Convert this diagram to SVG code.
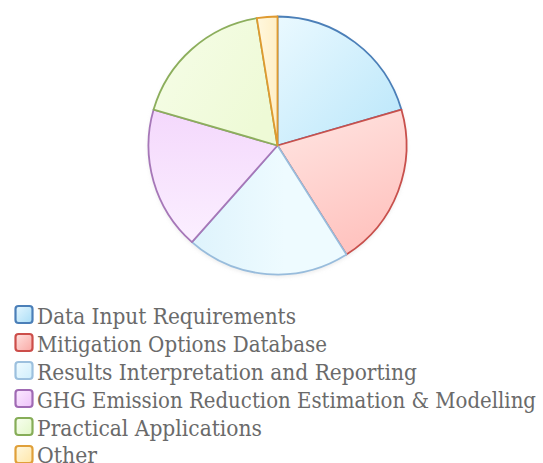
<svg xmlns="http://www.w3.org/2000/svg" width="543" height="463" viewBox="0 0 543 463">
<defs>
<linearGradient id="gBlue" x1="0" y1="0" x2="1" y2="1"><stop offset="0" stop-color="#eaf9ff"/><stop offset="1" stop-color="#b9e6fa"/></linearGradient>
<linearGradient id="gRed" x1="0" y1="0" x2="0.4" y2="1"><stop offset="0" stop-color="#ffe6e3"/><stop offset="1" stop-color="#ffc4c0"/></linearGradient>
<linearGradient id="gLBlue" x1="0" y1="0" x2="1" y2="0"><stop offset="0" stop-color="#def3fc"/><stop offset="0.6" stop-color="#eefbff"/><stop offset="1" stop-color="#eefbff"/></linearGradient>
<linearGradient id="gPurple" x1="0" y1="0" x2="0" y2="1"><stop offset="0" stop-color="#f4d8fc"/><stop offset="1" stop-color="#fbefff"/></linearGradient>
<linearGradient id="gGreen" x1="0" y1="0" x2="1" y2="0.6"><stop offset="0" stop-color="#f6fde8"/><stop offset="1" stop-color="#eefad6"/></linearGradient>
<linearGradient id="gOther" x1="0" y1="0" x2="1" y2="0"><stop offset="0" stop-color="#fff8df"/><stop offset="1" stop-color="#ffefc6"/></linearGradient>
<linearGradient id="lBlue" x1="0" y1="0" x2="1" y2="1"><stop offset="0" stop-color="#e6f7ff"/><stop offset="1" stop-color="#a9ddf6"/></linearGradient>
<linearGradient id="lRed" x1="0" y1="0" x2="1" y2="1"><stop offset="0" stop-color="#ffe2e0"/><stop offset="1" stop-color="#f9a8a4"/></linearGradient>
<linearGradient id="lLBlue" x1="0" y1="0" x2="1" y2="1"><stop offset="0" stop-color="#f0fbff"/><stop offset="1" stop-color="#cfeefc"/></linearGradient>
<linearGradient id="lPurple" x1="0" y1="0" x2="1" y2="1"><stop offset="0" stop-color="#fbeaff"/><stop offset="1" stop-color="#eec2fa"/></linearGradient>
<linearGradient id="lGreen" x1="0" y1="0" x2="1" y2="1"><stop offset="0" stop-color="#f8fff0"/><stop offset="1" stop-color="#e2f7c8"/></linearGradient>
<linearGradient id="lOther" x1="0" y1="0" x2="1" y2="1"><stop offset="0" stop-color="#fff8e0"/><stop offset="1" stop-color="#ffe6a8"/></linearGradient>
<filter id="sh" x="-10%" y="-10%" width="120%" height="125%"><feGaussianBlur stdDeviation="2"/></filter>
</defs>
<style>
.sl{stroke-width:1.8;stroke-linejoin:round}
.lg{stroke-width:2.2}
.lt{font-family:"DejaVu Serif Condensed","DejaVu Serif","Liberation Serif",serif;font-size:23px;fill:#6a6a6a}
</style>
<rect width="543" height="463" fill="#ffffff"/>
<circle cx="277.5" cy="147.5" r="129" fill="#d8d8d8" filter="url(#sh)" opacity="0.6"/>
<g id="pie">
<g id="slice-data-input"><path class="sl" d="M277.5,145.5 L277.5,16.5 A129,129 0 0 1 401.4,109.6 Z" fill="url(#gBlue)" stroke="#4b7fb8"/></g>
<g id="slice-mitigation"><path class="sl" d="M277.5,145.5 L401.4,109.6 A129,129 0 0 1 346.45,254.53 Z" fill="url(#gRed)" stroke="#c8504c"/></g>
<g id="slice-results"><path class="sl" d="M277.5,145.5 L346.45,254.53 A129,129 0 0 1 191.96,242.06 Z" fill="url(#gLBlue)" stroke="#98bcdc"/></g>
<g id="slice-ghg"><path class="sl" d="M277.5,145.5 L191.96,242.06 A129,129 0 0 1 153.6,109.6 Z" fill="url(#gPurple)" stroke="#a677b8"/></g>
<g id="slice-practical"><path class="sl" d="M277.5,145.5 L153.6,109.6 A129,129 0 0 1 256.8,18.2 Z" fill="url(#gGreen)" stroke="#8cae5c"/></g>
<g id="slice-other"><path class="sl" d="M277.5,145.5 L256.8,18.2 A129,129 0 0 1 277.5,16.5 Z" fill="url(#gOther)" stroke="#df9a30" stroke-width="2.2"/></g>
</g>
<g id="legend">
<g id="leg-data-input"><rect class="lg" x="15.5" y="306" width="17" height="17" rx="3" fill="url(#lBlue)" stroke="#4b7fb8"/><text class="lt" x="37" y="324" textLength="259" lengthAdjust="spacingAndGlyphs">Data Input Requirements</text></g>
<g id="leg-mitigation"><rect class="lg" x="15.5" y="334" width="17" height="17" rx="3" fill="url(#lRed)" stroke="#cc4e4a"/><text class="lt" x="37" y="352" textLength="290" lengthAdjust="spacingAndGlyphs">Mitigation Options Database</text></g>
<g id="leg-results"><rect class="lg" x="15.5" y="362" width="17" height="17" rx="3" fill="url(#lLBlue)" stroke="#9cc0de"/><text class="lt" x="37" y="380" textLength="380" lengthAdjust="spacingAndGlyphs">Results Interpretation and Reporting</text></g>
<g id="leg-ghg"><rect class="lg" x="15.5" y="390" width="17" height="17" rx="3" fill="url(#lPurple)" stroke="#a06ab4"/><text class="lt" x="37" y="408" textLength="499" lengthAdjust="spacingAndGlyphs">GHG Emission Reduction Estimation &amp; Modelling</text></g>
<g id="leg-practical"><rect class="lg" x="15.5" y="418" width="17" height="17" rx="3" fill="url(#lGreen)" stroke="#86ad58"/><text class="lt" x="37" y="436" textLength="225" lengthAdjust="spacingAndGlyphs">Practical Applications</text></g>
<g id="leg-other"><rect class="lg" x="15.5" y="446" width="17" height="17" rx="3" fill="url(#lOther)" stroke="#e0a03a"/><text class="lt" x="37" y="463" textLength="60" lengthAdjust="spacingAndGlyphs">Other</text></g>
</g>
</svg>
